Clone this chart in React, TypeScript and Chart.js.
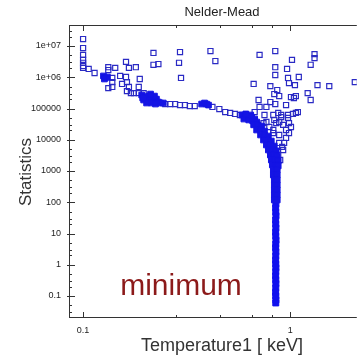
import React, { useEffect, useRef } from 'react';
import { Chart, registerables } from 'chart.js';

Chart.register(...registerables);

// ---- texts ----
const chartTitle = 'Nelder-Mead';
const xAxisTitle = 'Temperature1 [ keV]';
const yAxisTitle = 'Statistics';
const noteText = 'minimum';

// ---- axes ----
const xMin = 0.0855;
const xMax = 2.094;
const yMin = 0.0213;
const yMax = 4.7e7;
const xMajorTicks = [0.1, 1];
const xMajorLabels = ['0.1', '1'];
const xMinorTicks = [0.28, 0.46, 0.65, 0.82];
const yMajorTicks = [0.1, 1, 10, 100, 1000, 10000, 100000, 1e6, 1e7];
const yMajorLabels = ['0.1', '1', '10', '100', '1000', '10000', '100000', '1e+06', '1e+07'];
const yMinorFactors = [2, 3, 5];

// ---- sparse (hollow) evaluations ----
const scanTemperature = [
  0.1, 0.1, 0.1, 0.1, 0.1, 0.1, 0.1, 0.1064, 0.1136, 0.1323, 0.1323, 0.1429, 0.1323, 0.1383, 0.1383, 0.1383,
  0.1611, 0.1664, 0.1797, 0.1509, 0.1611, 0.1628, 0.1877, 0.1542, 0.1664, 0.1628, 0.1701, 0.1856, 0.1758, 0.1856,
  0.196, 0.2186, 0.2309, 0.2186, 0.2936, 0.4118, 0.2904, 0.4349, 0.2969,
  0.6655, 0.7107, 0.8462, 1.309, 1.309, 1.019, 1.254, 0.8462, 0.9647, 0.8462, 0.9752, 1.099, 0.9858, 1.053, 1.353,
  1.542, 2.048, 0.801, 0.865, 0.837, 0.884, 1.0076, 1.064, 1.041, 1.213, 1.254, 0.7029, 0.801, 0.8462, 0.9541,
  0.7107, 0.7667,
  0.673, 0.7506, 0.8279, 0.8744, 0.9036, 0.9752, 1.03, 1.088, 0.7667, 0.837, 0.884, 0.9858,
  0.2492, 0.2633, 0.278, 0.2936, 0.3101, 0.3275, 0.3458, 0.4209, 0.4545, 0.4851, 0.5124, 0.541, 0.5713,
  1.064, 0.9036, 0.9752, 0.8555, 0.9235, 0.9858, 0.9541, 0.884, 0.9335, 0.9235, 0.8744, 0.8555, 0.884, 0.8279,
  0.7924, 1.0076, 0.9541, 0.9135, 0.8938, 0.7424, 0.8279,
];
const scanStatistic = [
  1.67e7, 8.6e6, 5.2e6, 3.6e6, 2.9e6, 2.3e6, 2.0e6, 1.84e6, 1.37e6, 2.1e6, 1.7e6, 2.0e6, 4.5e5, 9.5e5, 7.0e5, 4.9e5,
  3.1e6, 2.0e6, 2.1e6, 1.1e6, 1.02e6, 7.0e5, 8.8e5, 6.1e5, 4.9e5, 3.6e5, 3.1e5, 4.9e5, 3.1e5, 3.1e5,
  3.1e5, 6.0e6, 2.65e6, 2.5e6, 6.4e6, 6.9e6, 2.9e6, 3.3e6, 9.5e5,
  6.1e5, 5.2e6, 6.9e6, 5.5e6, 4.1e6, 3.6e6, 2.5e6, 2.1e6, 1.84e6, 1.18e6, 9.5e5, 1.02e6, 6.5e5, 5.6e5, 5.6e5,
  5.2e5, 7.0e5, 5.2e5, 3.9e5, 2.9e5, 2.5e5, 2.33e5, 2.5e5, 2.17e5, 3.1e5, 1.87e5, 1.87e5, 1.61e5, 1.39e5, 1.29e5,
  1.12e5, 1.12e5,
  7.7e4, 6.2e4, 6.2e4, 7.2e4, 6.2e4, 6.2e4, 6.7e4, 7.7e4, 3.7e4, 4.3e4, 3.7e4, 3.4e4,
  1.39e5, 1.39e5, 1.39e5, 1.29e5, 1.29e5, 1.2e5, 1.2e5, 1.12e5, 9.6e4, 7.7e4, 7.2e4, 6.7e4, 6.2e4,
  7.2e4, 5.3e4, 5.0e4, 3.4e4, 3.0e4, 1.64e4, 1.14e4, 7.9e3, 7.9e3, 4.7e3, 3.25e3, 1.8e3, 1.42e4, 2.05e4,
  2.56e4, 2.56e4, 2.05e4, 5.9e3, 2.25e3, 3.4e4, 1.64e4,
];

// ---- dense (overlapping) evaluations ----
const denseTemperature = [
  0.1254, 0.1281, 0.131, 0.1267,
  0.1918, 0.2003, 0.207, 0.2139, 0.196, 0.207, 0.2186, 0.2259, 0.2309, 0.2025, 0.2139, 0.2235, 0.236, 0.2438,
  0.1939, 0.221, 0.2116,
  0.3733, 0.3857, 0.3942, 0.4029,
  0.584, 0.6034, 0.6166, 0.6372, 0.6512, 0.5968, 0.6302, 0.6584, 0.673, 0.6878, 0.6441, 0.61,
  0.6655, 0.6954, 0.7263, 0.6878, 0.7185, 0.7506, 0.7185, 0.7506, 0.7837, 0.7424, 0.7752, 0.8098, 0.7667, 0.801,
  0.837, 0.7837, 0.8188, 0.8555, 0.801, 0.837, 0.865, 0.8098, 0.8462, 0.8744, 0.8188, 0.8555, 0.8744,
  0.8279, 0.865, 0.8279, 0.865, 0.837, 0.865, 0.837, 0.865, 0.837, 0.865, 0.837, 0.865, 0.837, 0.865,
];
const denseStatistic = [
  1.1e6, 9.5e5, 1.02e6, 8.8e5,
  2.7e5, 2.33e5, 2.5e5, 2.17e5, 1.87e5, 1.74e5, 1.87e5, 2.0e5, 1.61e5, 1.5e5, 1.5e5, 1.39e5, 1.5e5, 1.5e5,
  2.17e5, 2.5e5, 2.9e5,
  1.39e5, 1.5e5, 1.39e5, 1.29e5,
  6.2e4, 5.3e4, 5.75e4, 5.0e4, 5.3e4, 4.6e4, 4.3e4, 4.0e4, 4.6e4, 3.7e4, 6.2e4, 6.7e4,
  3.0e4, 3.0e4, 2.75e4, 2.05e4, 2.05e4, 1.9e4, 1.42e4, 1.42e4, 1.32e4, 9.8e3, 9.8e3, 9.1e3, 6.8e3, 6.8e3,
  6.3e3, 4.7e3, 4.7e3, 4.4e3, 3.25e3, 3.25e3, 3.0e3, 2.25e3, 2.25e3, 2.1e3, 1.56e3, 1.56e3, 1.45e3,
  1080, 1080, 745, 745, 515, 515, 356, 356, 247, 247, 171, 171, 118, 118,
];

// ---- converging column near the minimum ----
const columnTemperature = [
  0.852, 0.85, 0.851, 0.853, 0.85, 0.851, 0.852, 0.85, 0.851, 0.853, 0.851, 0.85, 0.852,
  0.851, 0.85, 0.851, 0.852, 0.851, 0.85, 0.851, 0.852, 0.851, 0.85, 0.851, 0.852, 0.851,
];
const columnStatistic = [
  88, 66, 48, 37, 27, 20, 15, 11, 8.2, 6.1, 4.6, 3.5, 2.6,
  1.9, 1.4, 1.05, 0.8, 0.6, 0.44, 0.33, 0.25, 0.18, 0.13, 0.1, 0.075, 0.06,
];

const FONT = '"Liberation Sans", Arial, Helvetica, sans-serif';
const AXIS_COLOR = '#333333';

const pairs = (xs: number[], ys: number[]) => xs.map((x, i) => ({ x, y: ys[i] }));

const decorPlugin = {
  id: 'decor',
  afterDraw(chart: any) {
    const { ctx, chartArea: a, scales } = chart;
    const xs = scales.x;
    const ys = scales.y;
    ctx.save();
    ctx.strokeStyle = AXIS_COLOR;
    ctx.lineWidth = 1;
    ctx.beginPath();
    // frame
    ctx.moveTo(a.left, a.top + 0.5);
    ctx.lineTo(a.right, a.top + 0.5);
    ctx.moveTo(a.left + 0.5, a.top);
    ctx.lineTo(a.left + 0.5, a.bottom + 1);
    ctx.moveTo(a.left, a.bottom + 0.5);
    ctx.lineTo(a.right, a.bottom + 0.5);
    // x ticks (bottom and top, inward)
    const xTick = (v: number, len: number) => {
      const p = Math.round(xs.getPixelForValue(v)) + 0.5;
      ctx.moveTo(p, a.bottom + 1);
      ctx.lineTo(p, a.bottom - len);
      ctx.moveTo(p, a.top);
      ctx.lineTo(p, a.top + len + 1);
    };
    xMajorTicks.forEach((v) => xTick(v, 5));
    xMinorTicks.forEach((v) => xTick(v, 2));
    // y ticks (left, inward)
    const yTick = (v: number, len: number) => {
      const p = Math.round(ys.getPixelForValue(v)) + 0.5;
      if (p < a.top || p > a.bottom + 1) return;
      ctx.moveTo(a.left - 2, p);
      ctx.lineTo(a.left + len + 1, p);
    };
    yMajorTicks.forEach((v) => yTick(v, 5));
    [0.01, ...yMajorTicks].forEach((m) =>
      yMinorFactors.forEach((f) => {
        const v = m * f;
        if (v > ys.min && v < ys.max) {
          const p = Math.round(ys.getPixelForValue(v)) + 0.5;
          ctx.moveTo(a.left, p);
          ctx.lineTo(a.left + 3, p);
        }
      })
    );
    ctx.stroke();

    // texts
    ctx.textAlign = 'center';
    ctx.textBaseline = 'middle';
    ctx.fillStyle = '#222222';
    ctx.font = `13px ${FONT}`;
    ctx.fillText(chartTitle, 222, 12);

    ctx.fillStyle = '#333333';
    ctx.font = `18px ${FONT}`;
    ctx.fillText(xAxisTitle, 222, 346);

    ctx.save();
    ctx.translate(26, 172);
    ctx.rotate(-Math.PI / 2);
    ctx.font = `17px ${FONT}`;
    ctx.fillText(yAxisTitle, 0, 0);
    ctx.restore();

    ctx.fillStyle = '#8c1a1a';
    ctx.font = `30px ${FONT}`;
    ctx.textBaseline = 'alphabetic';
    ctx.fillText(noteText, 181, 295);
    ctx.restore();
  },
};

export default function App() {
  const canvasRef = useRef<HTMLCanvasElement | null>(null);

  useEffect(() => {
    if (!canvasRef.current) return;
    const chart = new Chart(canvasRef.current, {
      type: 'scatter',
      data: {
        datasets: [
          {
            label: 'dense',
            data: pairs(denseTemperature, denseStatistic),
            pointStyle: 'rect',
            pointRadius: 4,
            pointBorderWidth: 1,
            pointBackgroundColor: '#1414e4',
            pointBorderColor: '#1414e4',
          },
          {
            label: 'column',
            data: pairs(columnTemperature, columnStatistic),
            pointStyle: 'rect',
            pointRadius: 4.2,
            pointBorderWidth: 1,
            pointBackgroundColor: '#1010ee',
            pointBorderColor: '#1010ee',
          },
          {
            label: 'scan',
            data: pairs(scanTemperature, scanStatistic),
            pointStyle: 'rect',
            pointRadius: 3.6,
            pointBorderWidth: 1.2,
            pointBackgroundColor: 'rgba(0,0,0,0)',
            pointBorderColor: '#2a2ac4',
          },
        ],
      },
      options: {
        animation: false,
        responsive: false,
        maintainAspectRatio: false,
        layout: { padding: { left: 0, top: 25, right: 0, bottom: 0 } },
        plugins: {
          legend: { display: false },
          title: { display: false },
          tooltip: { enabled: false },
        },
        scales: {
          x: {
            type: 'logarithmic',
            min: xMin,
            max: xMax,
            grid: { display: false, drawTicks: false, tickLength: 0 },
            border: { display: false },
            afterBuildTicks: (scale: any) => {
              scale.ticks = xMajorTicks.map((v) => ({ value: v }));
            },
            afterFit: (scale: any) => {
              scale.height = 43;
            },
            ticks: {
              autoSkip: false,
              maxRotation: 0,
              padding: 8,
              color: '#222222',
              font: { family: FONT, size: 9 },
              callback: (_v: any, i: number) => xMajorLabels[i],
            },
          },
          y: {
            type: 'logarithmic',
            min: yMin,
            max: yMax,
            grid: { display: false, drawTicks: false, tickLength: 0 },
            border: { display: false },
            afterBuildTicks: (scale: any) => {
              scale.ticks = yMajorTicks.map((v) => ({ value: v }));
            },
            afterFit: (scale: any) => {
              scale.width = 69;
            },
            ticks: {
              autoSkip: false,
              padding: 8,
              color: '#222222',
              font: { family: FONT, size: 9 },
              callback: (_v: any, i: number) => yMajorLabels[i],
            },
          },
        },
      },
      plugins: [decorPlugin],
    });
    return () => chart.destroy();
  }, []);

  return (
    <div style={{ position: 'absolute', left: 0, top: 0, width: 362, height: 360, background: '#ffffff' }}>
      <canvas ref={canvasRef} width={362} height={360} style={{ display: 'block' }} />
    </div>
  );
}
